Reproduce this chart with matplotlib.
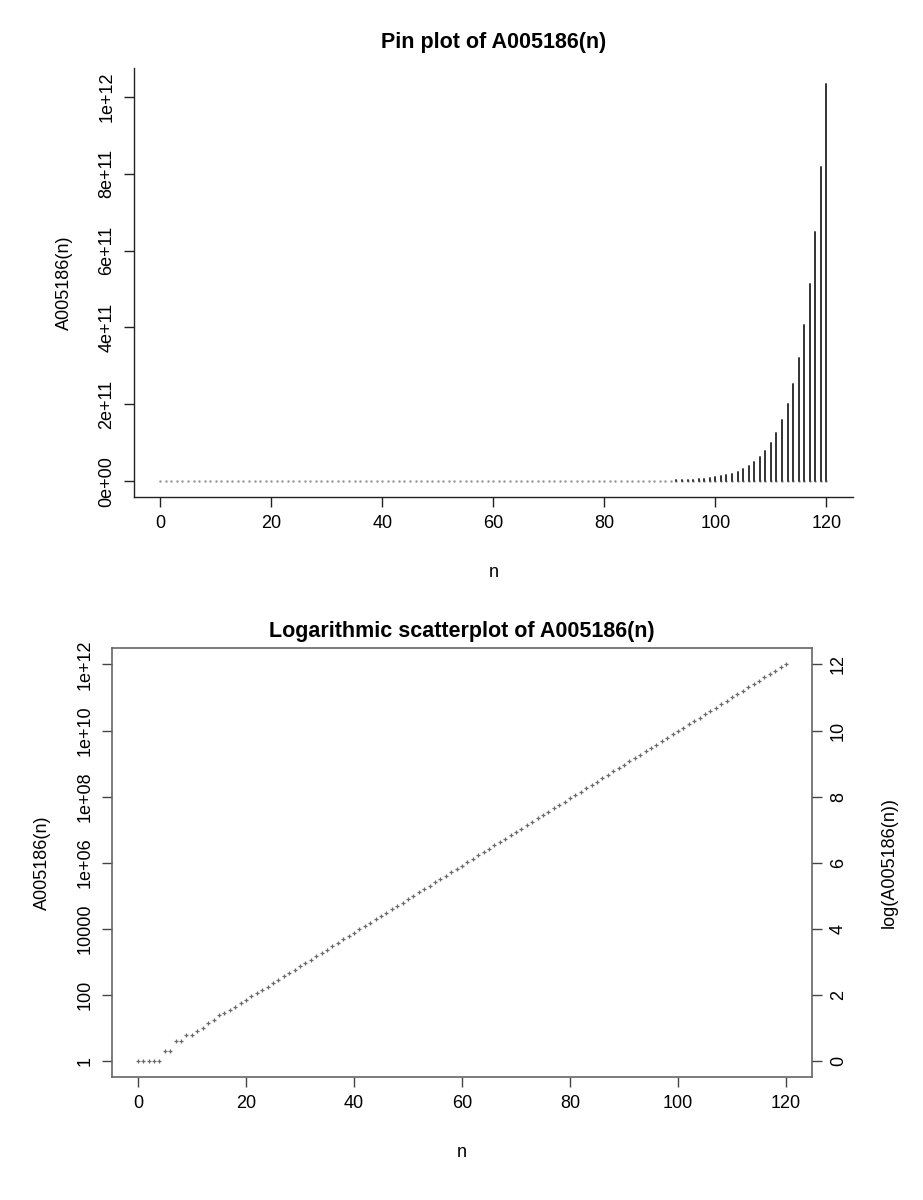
import matplotlib
matplotlib.use("Agg")
import matplotlib.pyplot as plt
import numpy as np
from matplotlib.ticker import FixedLocator, FixedFormatter

plt.rcParams['font.family'] = ['Liberation Sans', 'DejaVu Sans']

n = list(range(0, 121))
values = [
    1, 1, 1, 1, 1, 2, 2, 4, 4, 6, 6, 8, 10, 14, 18, 24, 29, 36, 44, 58,
    72, 91, 113, 143, 179, 227, 287, 366, 460, 578, 732, 926, 1174, 1489, 1879, 2365,
    2988, 3780, 4788, 6049, 7628, 9635, 12190, 15409, 19452, 24561, 31025, 39229,
    49580, 62680, 79255, 100144, 126542, 159931, 202085, 255321, 322586, 407758,
    515401, 651362, 823290, 1040537, 1315051, 1662077, 2100400, 2654900, 3355600,
    4241400, 5360700, 6775700, 8562500, 10820000, 13673000, 17279000, 21836000,
    27594000, 34871000, 44066000, 55686000, 70370000, 88927000, 112380000,
    142010000, 179460000, 226780000, 286580000, 362150000, 457650000, 578330000,
    730840000, 923560000, 1.1671e9, 1.4749e9, 1.8638e9, 2.3553e9, 2.9764e9,
    3.7613e9, 4.7532e9, 6.0066e9, 7.5905e9, 9.5921e9, 1.2122e10, 1.5319e10,
    1.9359e10, 2.4464e10, 3.0915e10, 3.9067e10, 4.9369e10, 6.2388e10, 7.8840e10,
    9.9630e10, 1.2590e11, 1.5910e11, 2.0106e11, 2.5408e11, 3.2108e11, 4.0575e11,
    5.1275e11, 6.4796e11, 8.1883e11, 1.0348e12,
]

x_ticks = [0, 20, 40, 60, 80, 100, 120]
pin_yticks = [0, 2e11, 4e11, 6e11, 8e11, 1e12]
pin_ylabels = ["0e+00", "2e+11", "4e+11", "6e+11", "8e+11", "1e+12"]
log_yticks = [1, 1e2, 1e4, 1e6, 1e8, 1e10, 1e12]
log_ylabels = ["1", "100", "10000", "1e+06", "1e+08", "1e+10", "1e+12"]
right_ticks = [0, 2, 4, 6, 8, 10, 12]

FS = 13
TFS = 15.5

fig = plt.figure(figsize=(9.23, 12), dpi=100)

# ---------- top: pin plot ----------
ax1 = fig.add_axes([0.1447, 0.5858, 0.9242 - 0.1447, 0.9436 - 0.5858])
ax1.vlines(n, 0, values, colors="#333333", linewidth=1.4, capstyle="round")
ax1.scatter(n, [0] * len(n), s=0.6, color="#999999", zorder=1)
vmax = max(values)
ax1.set_xlim(-4.8, 124.8)
ax1.set_ylim(-0.04 * vmax, 1.04 * vmax)
for s in ["top", "right"]:
    ax1.spines[s].set_visible(False)
for s in ["left", "bottom"]:
    ax1.spines[s].set_color("#222222")
    ax1.spines[s].set_linewidth(1.0)
ax1.xaxis.set_major_locator(FixedLocator(x_ticks))
ax1.set_xticklabels([str(v) for v in x_ticks], fontsize=FS)
ax1.yaxis.set_major_locator(FixedLocator(pin_yticks))
ax1.set_yticklabels(pin_ylabels, fontsize=FS, rotation=90, va="center")
ax1.tick_params(length=7, width=1, color="#222222", pad=6)
ax1.set_xlabel("n", fontsize=FS, labelpad=23)
ax1.set_ylabel("A005186(n)", fontsize=FS, labelpad=18.5)
ax1.set_title("Pin plot of A005186(n)", fontsize=TFS, fontweight="bold", pad=14)

# ---------- bottom: log scatter ----------
ax2 = fig.add_axes([0.1213, 0.1025, 0.8797 - 0.1213, 0.46 - 0.1025])
ax2.scatter(n, values, marker="+", s=9, linewidths=0.9, color="#6a6a6a")
ax2.set_yscale("log")
lmax = np.log10(vmax)
ax2.set_xlim(-4.8, 124.8)
ax2.set_ylim(10 ** (-0.04 * lmax), 10 ** (1.04 * lmax))
for s in ax2.spines.values():
    s.set_color("#666666")
    s.set_linewidth(1.2)
ax2.xaxis.set_major_locator(FixedLocator(x_ticks))
ax2.set_xticklabels([str(v) for v in x_ticks], fontsize=FS)
ax2.yaxis.set_major_locator(FixedLocator(log_yticks))
ax2.yaxis.set_major_formatter(FixedFormatter(log_ylabels))
ax2.yaxis.set_minor_locator(FixedLocator([]))
plt.setp(ax2.get_yticklabels(), fontsize=FS, rotation=90, va="center")
ax2.tick_params(length=7, width=1, color="#444444", pad=6)
ax2.set_xlabel("n", fontsize=FS, labelpad=23)
ax2.set_ylabel("A005186(n)", fontsize=FS, labelpad=18.5)
ax2.set_title("Logarithmic scatterplot of A005186(n)", fontsize=TFS, fontweight="bold", pad=8)

ax3 = ax2.twinx()
ax3.set_ylim(-0.04 * lmax, 1.04 * lmax)
ax3.yaxis.set_major_locator(FixedLocator(right_ticks))
ax3.set_yticklabels([str(v) for v in right_ticks], fontsize=FS, rotation=90, va="center")
ax3.tick_params(length=7, width=1, color="#444444", pad=6)
for s in ax3.spines.values():
    s.set_visible(False)
ax3.set_ylabel("log(A005186(n))", fontsize=FS, labelpad=24)

fig.savefig("out.png", dpi=100)
